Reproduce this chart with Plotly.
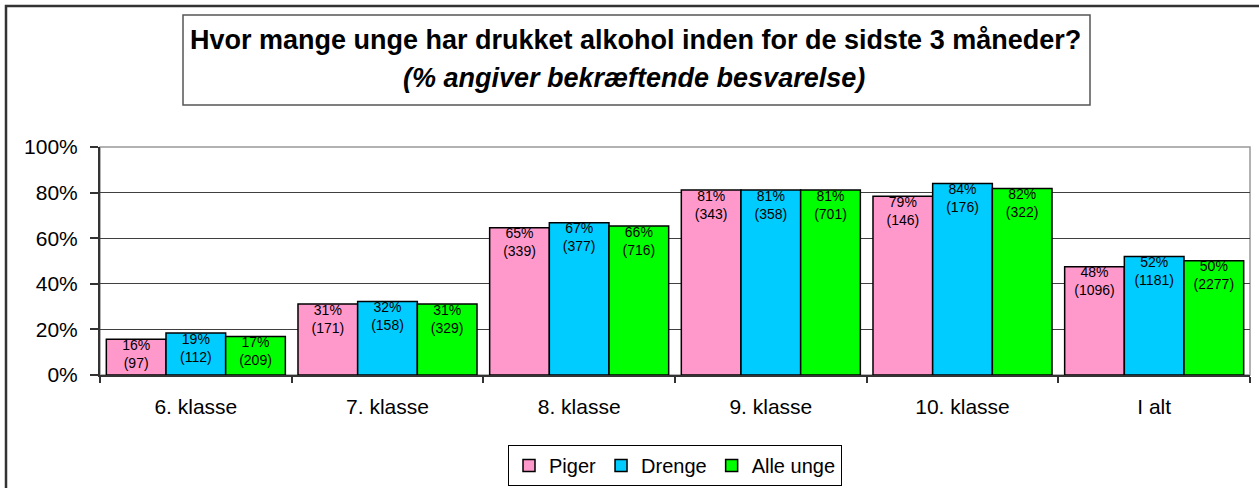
import plotly.graph_objects as go

categories = ["6. klasse", "7. klasse", "8. klasse", "9. klasse", "10. klasse", "I alt"]

piger_values = [15.7, 31.1, 64.6, 81.1, 78.4, 47.5]
drenge_values = [18.4, 32.2, 66.8, 81.1, 84.0, 52.0]
alle_values = [16.9, 31.1, 65.3, 81.1, 81.8, 50.1]

piger_pct_labels = [16, 31, 65, 81, 79, 48]
drenge_pct_labels = [19, 32, 67, 81, 84, 52]
alle_pct_labels = [17, 31, 66, 81, 82, 50]

piger_counts = [97, 171, 339, 343, 146, 1096]
drenge_counts = [112, 158, 377, 358, 176, 1181]
alle_counts = [209, 329, 716, 701, 322, 2277]

y_tick_vals = [0, 20, 40, 60, 80, 100]
y_tick_text = ["0%", "20%", "40%", "60%", "80%", "100%"]

title_line1 = "Hvor mange unge har drukket alkohol inden for de sidste 3 måneder?"
title_line2 = "(% angiver bekræftende besvarelse)"

FONT = "Liberation Sans, Arial, sans-serif"

series = [
    ("Piger", piger_values, piger_pct_labels, piger_counts, "#FF99CC"),
    ("Drenge", drenge_values, drenge_pct_labels, drenge_counts, "#00CCFF"),
    ("Alle unge", alle_values, alle_pct_labels, alle_counts, "#00FF00"),
]

fig = go.Figure()
for i, (name, vals, pcts, counts, color) in enumerate(series):
    fig.add_trace(go.Bar(
        name=name,
        x=categories,
        y=vals,
        offsetgroup=str(i),
        alignmentgroup="a",
        marker=dict(color=color, line=dict(color="black", width=1.5)),
        hoverinfo="skip",
    ))
for i, (name, vals, pcts, counts, color) in enumerate(series):
    fig.add_trace(go.Scatter(
        x=categories,
        y=vals,
        mode="text",
        text=[f"{p}%<br>({c})" for p, c in zip(pcts, counts)],
        textposition="bottom center",
        textfont=dict(family=FONT, size=14, color="black"),
        offsetgroup=str(i),
        alignmentgroup="a",
        showlegend=False,
        hoverinfo="skip",
        cliponaxis=False,
    ))

W, H = 1259, 488
L, R, T, B = 100, 9, 147, 113
pw = W - L - R
ph = H - T - B


def px_x(x):
    return (x - L) / pw


def px_y(y):
    return (H - B - y) / ph


fig.update_layout(
    width=W, height=H,
    margin=dict(l=L, r=R, t=T, b=B, pad=0, autoexpand=False),
    paper_bgcolor="white",
    plot_bgcolor="white",
    barmode="group",
    scattermode="group",
    bargap=0.066,
    scattergap=0.066,
    bargroupgap=0,
    font=dict(family=FONT, color="black"),
    showlegend=True,
    legend=dict(
        orientation="h",
        xref="container", yref="container",
        x=675 / W, xanchor="center",
        y=(H - 486) / H, yanchor="bottom",
        bordercolor="black", borderwidth=1,
        font=dict(family=FONT, size=20, color="black"),
        itemwidth=30,
        bgcolor="white",
    ),
    xaxis=dict(
        showline=True, linecolor="#333333", linewidth=2,
        ticks="outside", ticklen=6, tickcolor="#333333", tickwidth=1.5,
        tickson="boundaries",
        tickfont=dict(family=FONT, size=21, color="black"),
        ticklabelstandoff=12,
        showgrid=False,
        automargin=False,
        fixedrange=True,
    ),
    yaxis=dict(
        range=[0, 100],
        tickvals=y_tick_vals, ticktext=y_tick_text,
        showline=True, linecolor="#333333", linewidth=2,
        ticks="outside", ticklen=8, tickcolor="#333333", tickwidth=1.5,
        tickfont=dict(family=FONT, size=21, color="black"),
        ticklabelstandoff=8,
        showgrid=True, gridcolor="#404040", gridwidth=1,
        zeroline=False,
        automargin=False,
        fixedrange=True,
    ),
)

# plot area border (gray)
fig.add_shape(type="rect", xref="paper", yref="paper", x0=0, x1=1, y0=0, y1=1,
              line=dict(color="#999999", width=1.5), layer="below")
# outer chart border
fig.add_shape(type="rect", xref="paper", yref="paper",
              x0=px_x(6), x1=px_x(1300), y0=px_y(530), y1=px_y(6),
              line=dict(color="#333333", width=2.5), layer="below")
# title box
fig.add_shape(type="rect", xref="paper", yref="paper",
              x0=px_x(183), x1=px_x(1090), y0=px_y(105), y1=px_y(15),
              line=dict(color="#555555", width=1.5), fillcolor="white", layer="below")

fig.add_annotation(text=f"<b>{title_line1}</b>", xref="paper", yref="paper",
                   x=px_x(635), y=px_y(40), xanchor="center", yanchor="middle",
                   showarrow=False, font=dict(family=FONT, size=27, color="black"))
fig.add_annotation(text=f"<b><i>{title_line2}</i></b>", xref="paper", yref="paper",
                   x=px_x(633.5), y=px_y(78), xanchor="center", yanchor="middle",
                   showarrow=False, font=dict(family=FONT, size=27, color="black"))

fig.write_html(
    "out.html",
    config={"displayModeBar": False},
    post_script="document.body.style.margin='0';document.body.style.overflow='hidden';",
)
